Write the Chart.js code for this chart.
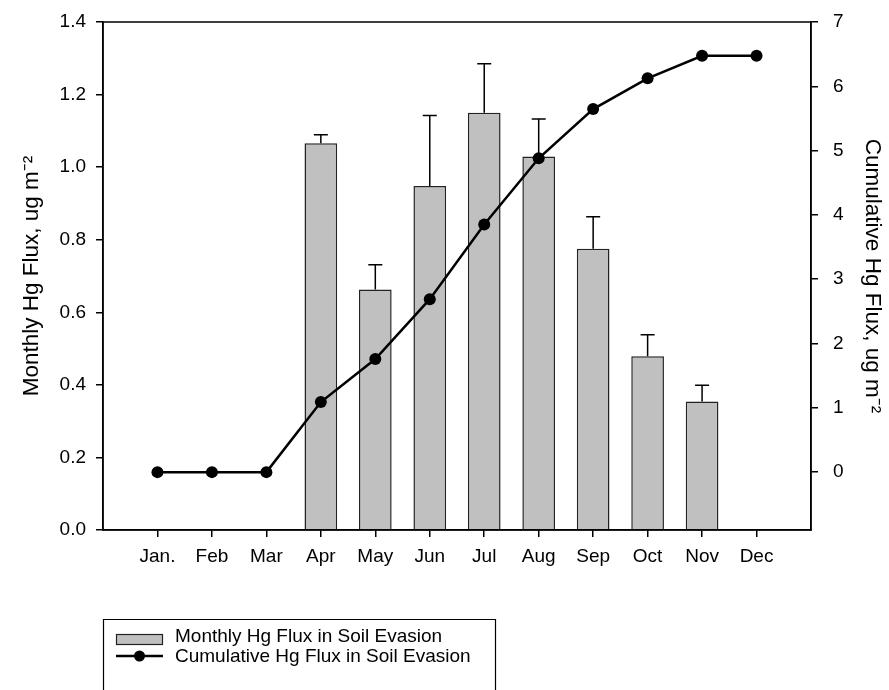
<!DOCTYPE html>
<html><head><meta charset="utf-8">
<script src="https://cdn.jsdelivr.net/npm/chart.js@4.4.0/dist/chart.umd.min.js"></script>
<style>html,body{margin:0;padding:0;background:#fff}#wrap{width:889px;height:690px;position:relative;overflow:hidden}</style>
</head><body><div id="wrap"><canvas id="c" width="889" height="690"></canvas></div>
<script>
const months = ['Jan.','Feb','Mar','Apr','May','Jun','Jul','Aug','Sep','Oct','Nov','Dec'];
const monthlyFlux = [null,null,null,1.066,0.663,0.948,1.150,1.029,0.775,0.479,0.354,null];
const monthlyFluxErr = [null,null,null,0.023,0.068,0.194,0.135,0.104,0.088,0.059,0.045,null];
const cumulativeFlux = [0,0,0,1.089,1.758,2.69,3.85,4.88,5.646,6.124,6.475,6.475];
const leftTicks = [0,0.2,0.4,0.6,0.8,1.0,1.2,1.4];
const rightTicks = [0,1,2,3,4,5,6,7];
const seriesNames = ['Monthly Hg Flux in Soil Evasion','Cumulative Hg Flux in Soil Evasion'];
const leftTitle = 'Monthly Hg Flux, ug m\u207B\u00B2';
const rightTitle = 'Cumulative Hg Flux, ug m\u207B\u00B2';

// pad categories so months sit at 1..12 on a 0..13 axis
const labels = [''].concat(months, ['']);
const barData = [null].concat(monthlyFlux, [null]);
const errData = [null].concat(monthlyFluxErr, [null]);
const lineData = [null].concat(cumulativeFlux, [null]);

const FONT = "'Liberation Sans', Arial, sans-serif";
Chart.defaults.font.family = FONT;
Chart.defaults.color = '#000';

const errorBars = {
  id: 'errorBars',
  afterDatasetDraw(chart, args) {
    if (args.index !== 0) return;
    const ctx = chart.ctx, y = chart.scales.y;
    const meta = chart.getDatasetMeta(0);
    ctx.save();
    ctx.strokeStyle = '#000'; ctx.lineWidth = 1.5;
    meta.data.forEach((el, i) => {
      const v = barData[i], e = errData[i];
      if (v == null || e == null) return;
      const top = y.getPixelForValue(v + e);
      ctx.beginPath();
      ctx.moveTo(el.x, el.y); ctx.lineTo(el.x, top);
      ctx.moveTo(el.x - 7, top); ctx.lineTo(el.x + 7, top);
      ctx.stroke();
    });
    ctx.restore();
  }
};

const frameAndLegend = {
  id: 'frameAndLegend',
  afterDraw(chart) {
    const ctx = chart.ctx, a = chart.chartArea;
    ctx.save();
    ctx.strokeStyle = '#000'; ctx.lineWidth = 1.5;
    ctx.strokeRect(a.left, a.top, a.right - a.left, a.bottom - a.top);
    // legend box (open at bottom, cut by page edge)
    const lx = 103.5, ly = 619.5, lw = 392;
    ctx.lineWidth = 1.2;
    ctx.beginPath();
    ctx.moveTo(lx, 700); ctx.lineTo(lx, ly); ctx.lineTo(lx + lw, ly); ctx.lineTo(lx + lw, 700);
    ctx.stroke();
    // bar swatch
    ctx.fillStyle = '#c0c0c0';
    ctx.fillRect(116, 634, 47, 11);
    ctx.strokeStyle = '#222'; ctx.lineWidth = 1.2;
    ctx.strokeRect(116.5, 634.5, 46, 10);
    // line swatch
    ctx.strokeStyle = '#000'; ctx.lineWidth = 2.5;
    ctx.beginPath(); ctx.moveTo(116, 656); ctx.lineTo(163, 656); ctx.stroke();
    ctx.fillStyle = '#000';
    ctx.beginPath(); ctx.arc(139.5, 656, 5.5, 0, Math.PI * 2); ctx.fill();
    ctx.font = '19px ' + FONT;
    ctx.textBaseline = 'middle'; ctx.textAlign = 'left';
    ctx.fillText(seriesNames[0], 175, 637);
    ctx.fillText(seriesNames[1], 175, 657);
    ctx.restore();
  }
};

const noVPad = s => { s.paddingTop = 0; s.paddingBottom = 0; };

new Chart(document.getElementById('c'), {
  type: 'bar',
  data: {
    labels: labels,
    datasets: [
      { type: 'bar', label: seriesNames[0], data: barData, yAxisID: 'y',
        backgroundColor: '#c0c0c0', borderColor: '#222', borderWidth: 1.5,
        barPercentage: 0.6, categoryPercentage: 1.0, order: 2 },
      { type: 'line', label: seriesNames[1], data: lineData, yAxisID: 'y2',
        borderColor: '#000', backgroundColor: '#000', borderWidth: 2.5,
        pointRadius: 6, pointHoverRadius: 6, pointBackgroundColor: '#000', pointBorderWidth: 0,
        tension: 0, spanGaps: false, order: 1 }
    ]
  },
  options: {
    responsive: false, animation: false,
    layout: { padding: { top: 22, left: 0, right: 0, bottom: 0 } },
    plugins: { legend: { display: false }, tooltip: { enabled: false } },
    scales: {
      x: {
        type: 'category', offset: false,
        grid: { offset: false, drawOnChartArea: false, drawTicks: true, tickLength: 7, lineWidth: 1.5,
          tickColor: c => (c.index === 0 || c.index === labels.length - 1) ? 'rgba(0,0,0,0)' : '#000' },
        border: { display: true, color: '#000', width: 1.5 },
        ticks: { font: { size: 19 }, color: '#000', padding: 8, maxRotation: 0, autoSkip: false },
        afterFit: s => { s.height = 690 - 530; }
      },
      y: {
        position: 'left', min: 0, max: 1.4,
        afterBuildTicks: s => { s.ticks = leftTicks.map(v => ({ value: v })); },
        grid: { drawOnChartArea: false, tickLength: 7, lineWidth: 1.5, tickColor: '#000' },
        border: { display: true, color: '#000', width: 1.5 },
        ticks: { font: { size: 19 }, color: '#000', padding: 10, callback: v => Number(v).toFixed(1) },
        title: { display: true, text: leftTitle, font: { size: 22.5 }, color: '#000', padding: { top: 18, bottom: 0 } },
        afterFit: s => { s.width = 103; noVPad(s); }
      },
      y2: {
        position: 'right', min: -0.9, max: 7,
        afterBuildTicks: s => { s.ticks = rightTicks.map(v => ({ value: v })); },
        grid: { drawOnChartArea: false, tickLength: 7, lineWidth: 1.5, tickColor: '#000' },
        border: { display: true, color: '#000', width: 1.5 },
        ticks: { font: { size: 19 }, color: '#000', padding: 15, callback: v => String(v) },
        title: { display: true, text: rightTitle, font: { size: 22.5 }, color: '#000', padding: { top: 3, bottom: 0 } },
        afterFit: s => { s.width = 889 - 811; noVPad(s); }
      }
    }
  },
  plugins: [errorBars, frameAndLegend]
});
</script>
</body></html>
